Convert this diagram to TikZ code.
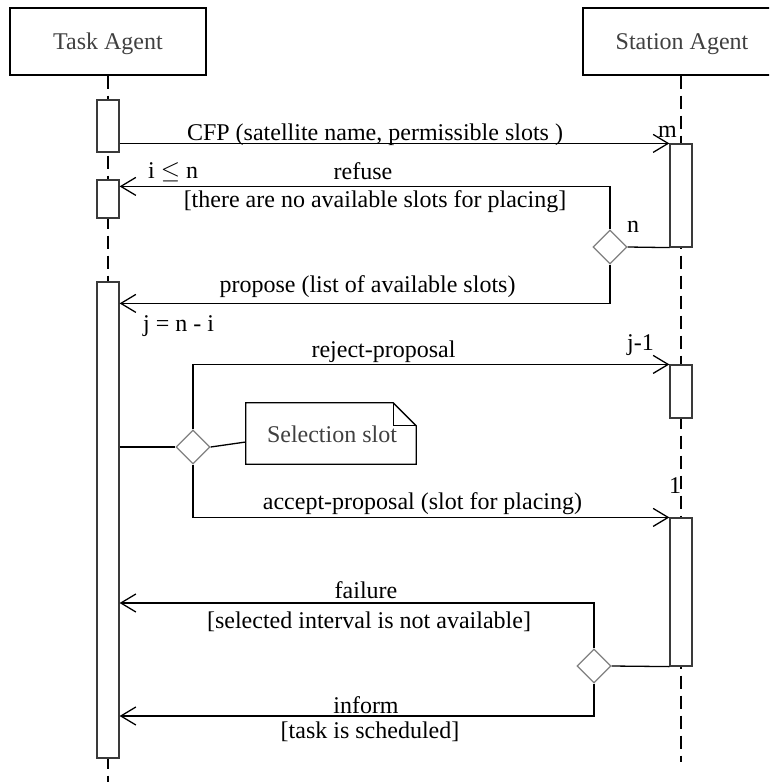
\documentclass[tikz,border=0pt]{standalone}
\usepackage{fontspec}
\setmainfont{Liberation Serif}
\usetikzlibrary{arrows.meta,shapes.geometric}
\definecolor{txtgray}{HTML}{404040}
\definecolor{boxgray}{HTML}{3A3A3A}
\definecolor{diagray}{HTML}{808080}
\begin{document}
\begin{tikzpicture}[x=1pt,y=-1pt,
  font=\fontsize{24}{28}\selectfont,
  actor/.style={draw=black,line width=1.4pt,minimum width=196pt,minimum height=67pt,inner sep=0pt,text=txtgray},
  actbox/.style={draw=boxgray,fill=white,line width=1.2pt,minimum width=22pt,inner sep=0pt},
  dec/.style={diamond,draw=diagray,fill=white,line width=1.3pt,minimum width=34pt,minimum height=34pt,inner sep=0pt,aspect=1},
  lifeline/.style={line width=1.3pt,dash pattern=on 13pt off 7pt},
  conn/.style={line width=1.3pt},
  msg/.style={line width=1.3pt,-{Straight Barb[length=15pt,width=18pt,line width=1.3pt]}},
  lbl/.style={inner sep=0pt,anchor=base}
]
\useasboundingbox (0,0) rectangle (769,782);
\clip (0,0) rectangle (769,782);
% participants
\node[actor] (TA) at (108,41.5) {};
\node[actor] (SA) at (681,41.5) {};
\node[lbl,text=txtgray] (TAt) at (108,49) {Task Agent};
\node[lbl,text=txtgray] (SAt) at (682,49) {Station Agent};
% lifeline ends
\coordinate (TAend) at (108,782);
\coordinate (SAend) at (681,762);
\draw[lifeline] (TA.south) -- (TAend);
\draw[lifeline] (SA.south) -- (SAend);
% activation boxes
\node[actbox,minimum height=52pt] (ta1) at (108,126) {};
\node[actbox,minimum height=38pt] (ta2) at (108,199) {};
\node[actbox,minimum height=476pt] (ta3) at (108,520) {};
\node[actbox,minimum height=103pt] (sa1) at (681,195.5) {};
\node[actbox,minimum height=53pt] (sa2) at (681,391.5) {};
\node[actbox,minimum height=148pt] (sa3) at (681,592) {};
% decisions
\node[dec] (d1) at (610,247) {};
\node[dec] (d2) at (193,447) {};
\node[dec] (d3) at (594,666) {};
% note
\node[inner sep=0pt,minimum width=170pt,minimum height=61pt] (note) at (331,433.5) {};
\draw[line width=1.3pt] (note.north west) -- ([xshift=-23pt]note.north east) -- ([yshift=-23pt]note.north east) -- (note.south east) -- (note.south west) -- cycle;
\draw[line width=1.3pt] ([xshift=-23pt]note.north east) -- ([xshift=-23pt,yshift=-23pt]note.north east) -- ([yshift=-23pt]note.north east);
\node[lbl,text=txtgray] (notet) at (332,442) {Selection slot};
% connectors
\draw[msg] (ta1.east |- sa1.north) -- (sa1.north west);
\draw[msg] (d1.north) |- ([yshift=-7pt]ta2.north east);
\draw[conn] (d1.east) -- (sa1.south west);
\draw[msg] (d1.south) |- ([yshift=-22pt]ta3.north east);
\draw[conn] (ta3.east |- d2.west) -- (d2.west);
\draw[msg] (d2.north) |- (sa2.north west);
\draw[msg] (d2.south) |- (sa3.north west);
\draw[conn] (d2.east) -- ([yshift=-8.5pt]note.west);
\draw[conn] (d3.east) -- (sa3.south west);
\draw[msg] (d3.north) |- ([yshift=-83pt]ta3.east);
\draw[msg] (d3.south) |- ([yshift=-196pt]ta3.east);
% labels
\node[lbl] (l1) at (375,140) {CFP (satellite name, permissible slots )};
\node[lbl,anchor=base east] (l2) at (677,137) {m};
\node[lbl,anchor=base west] (l3) at (148,178) {i \(\leq\) n};
\node[lbl] (l4) at (363,179) {refuse};
\node[lbl] (l5) at (375,207) {[there are no available slots for placing]};
\node[lbl,anchor=base west] (l6) at (627,232) {n};
\node[lbl] (l7) at (367.5,292) {propose (list of available slots)};
\node[lbl,anchor=base west] (l8) at (143,331) {j = n - i};
\node[lbl] (l9) at (383.5,357) {reject-proposal};
\node[lbl,anchor=base west] (l10) at (627,350) {j-1};
\node[lbl] (l11) at (422.5,509) {accept-proposal (slot for placing)};
\node[lbl,anchor=base west] (l12) at (669,493) {1};
\node[lbl] (l13) at (366,598) {failure};
\node[lbl] (l14) at (369,628) {[selected interval is not available]};
\node[lbl] (l15) at (366,713) {inform};
\node[lbl] (l16) at (370,738) {[task is scheduled]};
\end{tikzpicture}
\end{document}
